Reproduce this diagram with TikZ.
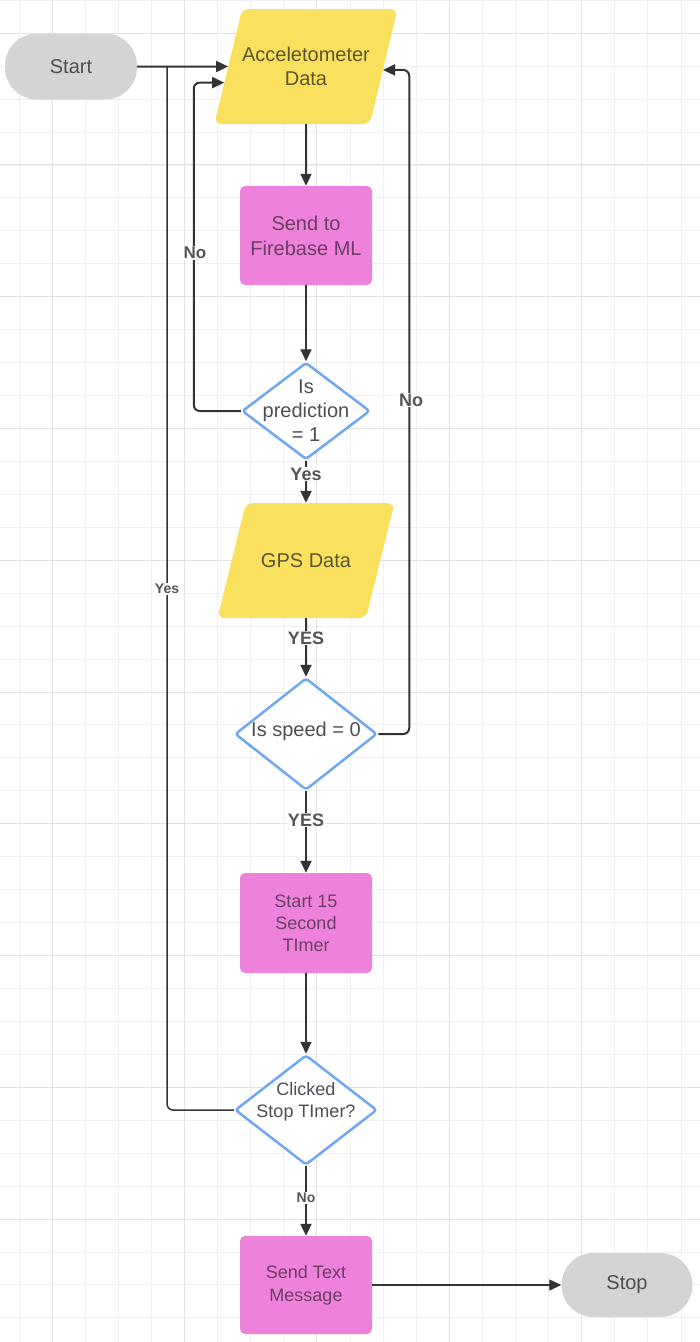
\documentclass[tikz,border=0pt]{standalone}
\usepackage{fontspec}
\setmainfont{Liberation Sans}
\usetikzlibrary{positioning, arrows.meta, shapes, calc}
\definecolor{TermGray}{RGB}{211,212,214}
\definecolor{DataYellow}{RGB}{249,225,94}
\definecolor{ProcPink}{RGB}{238,130,218}
\definecolor{DecBlue}{RGB}{111,168,240}
\definecolor{LineDark}{RGB}{51,51,51}
\definecolor{GridMinor}{RGB}{240,240,240}
\definecolor{GridMajor}{RGB}{226,226,226}
\definecolor{TextGray}{RGB}{75,79,84}
\definecolor{TextOlive}{RGB}{92,86,48}
\definecolor{TextPlum}{RGB}{107,61,102}
\definecolor{LabelGray}{RGB}{85,85,85}

\begin{document}
\begin{tikzpicture}[x=1pt, y=-1pt]
  \tikzstyle{term} = [rectangle, fill=TermGray, rounded corners=32pt, minimum width=132pt,
    minimum height=66pt, text=TextGray, font=\fontsize{20}{24}\selectfont]
  \tikzstyle{io} = [trapezium, trapezium left angle=76, trapezium right angle=104,
    trapezium stretches body=true, fill=DataYellow, rounded corners=7pt, minimum width=177pt,
    minimum height=115pt, inner xsep=0pt, inner ysep=36pt, align=center, text=TextOlive,
    font=\fontsize{20}{24}\selectfont]
  \tikzstyle{proc} = [rectangle, fill=ProcPink, rounded corners=5pt, minimum width=132pt,
    minimum height=99pt, align=center, text=TextPlum, font=\fontsize{20}{25}\selectfont]
  \tikzstyle{decide} = [diamond, draw=DecBlue, line width=2.5pt, fill=white, rounded corners=3pt, inner sep=0pt]
  \tikzstyle{dtext} = [align=center, text=TextGray, font=\fontsize{20}{24}\selectfont]
  \tikzstyle{flow} = [draw=LineDark, line width=2pt, -{Triangle[length=12pt, width=11pt]}]
  \tikzstyle{lbl} = [fill=white, inner sep=1pt, text=LabelGray, font=\bfseries\fontsize{18}{18}\selectfont]

  \fill[white] (0,0) rectangle (700,1342);
  \useasboundingbox (0,0) rectangle (700,1342);
  \foreach \k in {0,...,20}
    \draw[GridMinor, line width=1pt] (19+33.1*\k,0) -- (19+33.1*\k,1342);
  \foreach \k in {0,...,40}
    \draw[GridMinor, line width=1pt] (0,0.3+32.94*\k) -- (700,0.3+32.94*\k);
  \foreach \k in {0,...,4}
    \draw[GridMajor, line width=1pt] (52+132.4*\k,0) -- (52+132.4*\k,1342);
  \foreach \k in {0,...,9}
    \draw[GridMajor, line width=1pt] (0,33.2+131.76*\k) -- (700,33.2+131.76*\k);

  \node[term] (start) at (71,66.5) {Start};
  \node[io] (acc) at (306,66.5) {Acceletometer\\Data};
  \node[proc] (fire) at (306,235.5) {Send to\\Firebase ML};
  \node[decide, minimum width=128pt, minimum height=97pt,
    label={[dtext]center:Is\\prediction\\= 1}] (pred) at (306,411) {};
  \node[io, inner ysep=50pt] (gps) at (306,560.5) {GPS Data};
  \node[decide, minimum width=142pt, minimum height=112pt,
    label={[dtext, yshift=3pt]center:Is speed = 0}] (speed) at (306,734) {};
  \node[proc, font=\fontsize{18}{22}\selectfont, minimum height=100pt] (timer) at (306,923) {Start 15\\Second\\TImer};
  \node[decide, minimum width=142pt, minimum height=110pt,
    label={[dtext, font=\fontsize{18}{22}\selectfont, yshift=8pt]center:Clicked\\Stop TImer?}] (click) at (306,1110) {};
  \node[proc, font=\fontsize{18}{23}\selectfont, minimum height=98pt] (sms) at (306,1285) {Send Text\\Message};
  \node[term, minimum width=131pt, minimum height=64pt] (stop) at (627,1285) {Stop};

  \coordinate (accL) at ($(acc.bottom left corner)!0.36!(acc.top left corner)$);
  \coordinate (accR) at ($(acc.bottom right corner)!0.47!(acc.top right corner)$);
  \coordinate (yesjoin) at (167,66.5);

  \draw[flow] (start) -- (acc);
  \draw[flow] (acc) -- (fire);
  \draw[flow] (fire) -- (pred);
  \draw[flow] (pred) -- (gps);
  \draw[flow] (gps) -- (speed);
  \draw[flow] (speed) -- (timer);
  \draw[flow] (timer) -- (click);
  \draw[flow] (click) -- (sms);
  \draw[flow, line width=1.2pt] (sms) -- (stop);
  \draw[flow, rounded corners=6pt] (pred.west) -- ++(-47,0) |- (accL);
  \draw[flow, rounded corners=6pt] (speed.east) -- ++(31,0) |- (accR);
  \draw[draw=LineDark, line width=1.5pt, rounded corners=6pt] (click.west) -| (yesjoin);

  \node[lbl, font=\bfseries\fontsize{17}{17}\selectfont] (noA) at (195,253) {No};
  \node[lbl] (noB) at (411,400) {No};
  \node[lbl, font=\bfseries\fontsize{14}{14}\selectfont] (yesA) at (167,589) {Yes};
  \node[lbl] (yesB) at (306,474) {Yes};
  \node[lbl] (yesC) at (306,638) {YES};
  \node[lbl] (yesD) at (306,820) {YES};
  \node[lbl, font=\bfseries\fontsize{14}{14}\selectfont] (noC) at (306,1198) {No};
\end{tikzpicture}
\end{document}
